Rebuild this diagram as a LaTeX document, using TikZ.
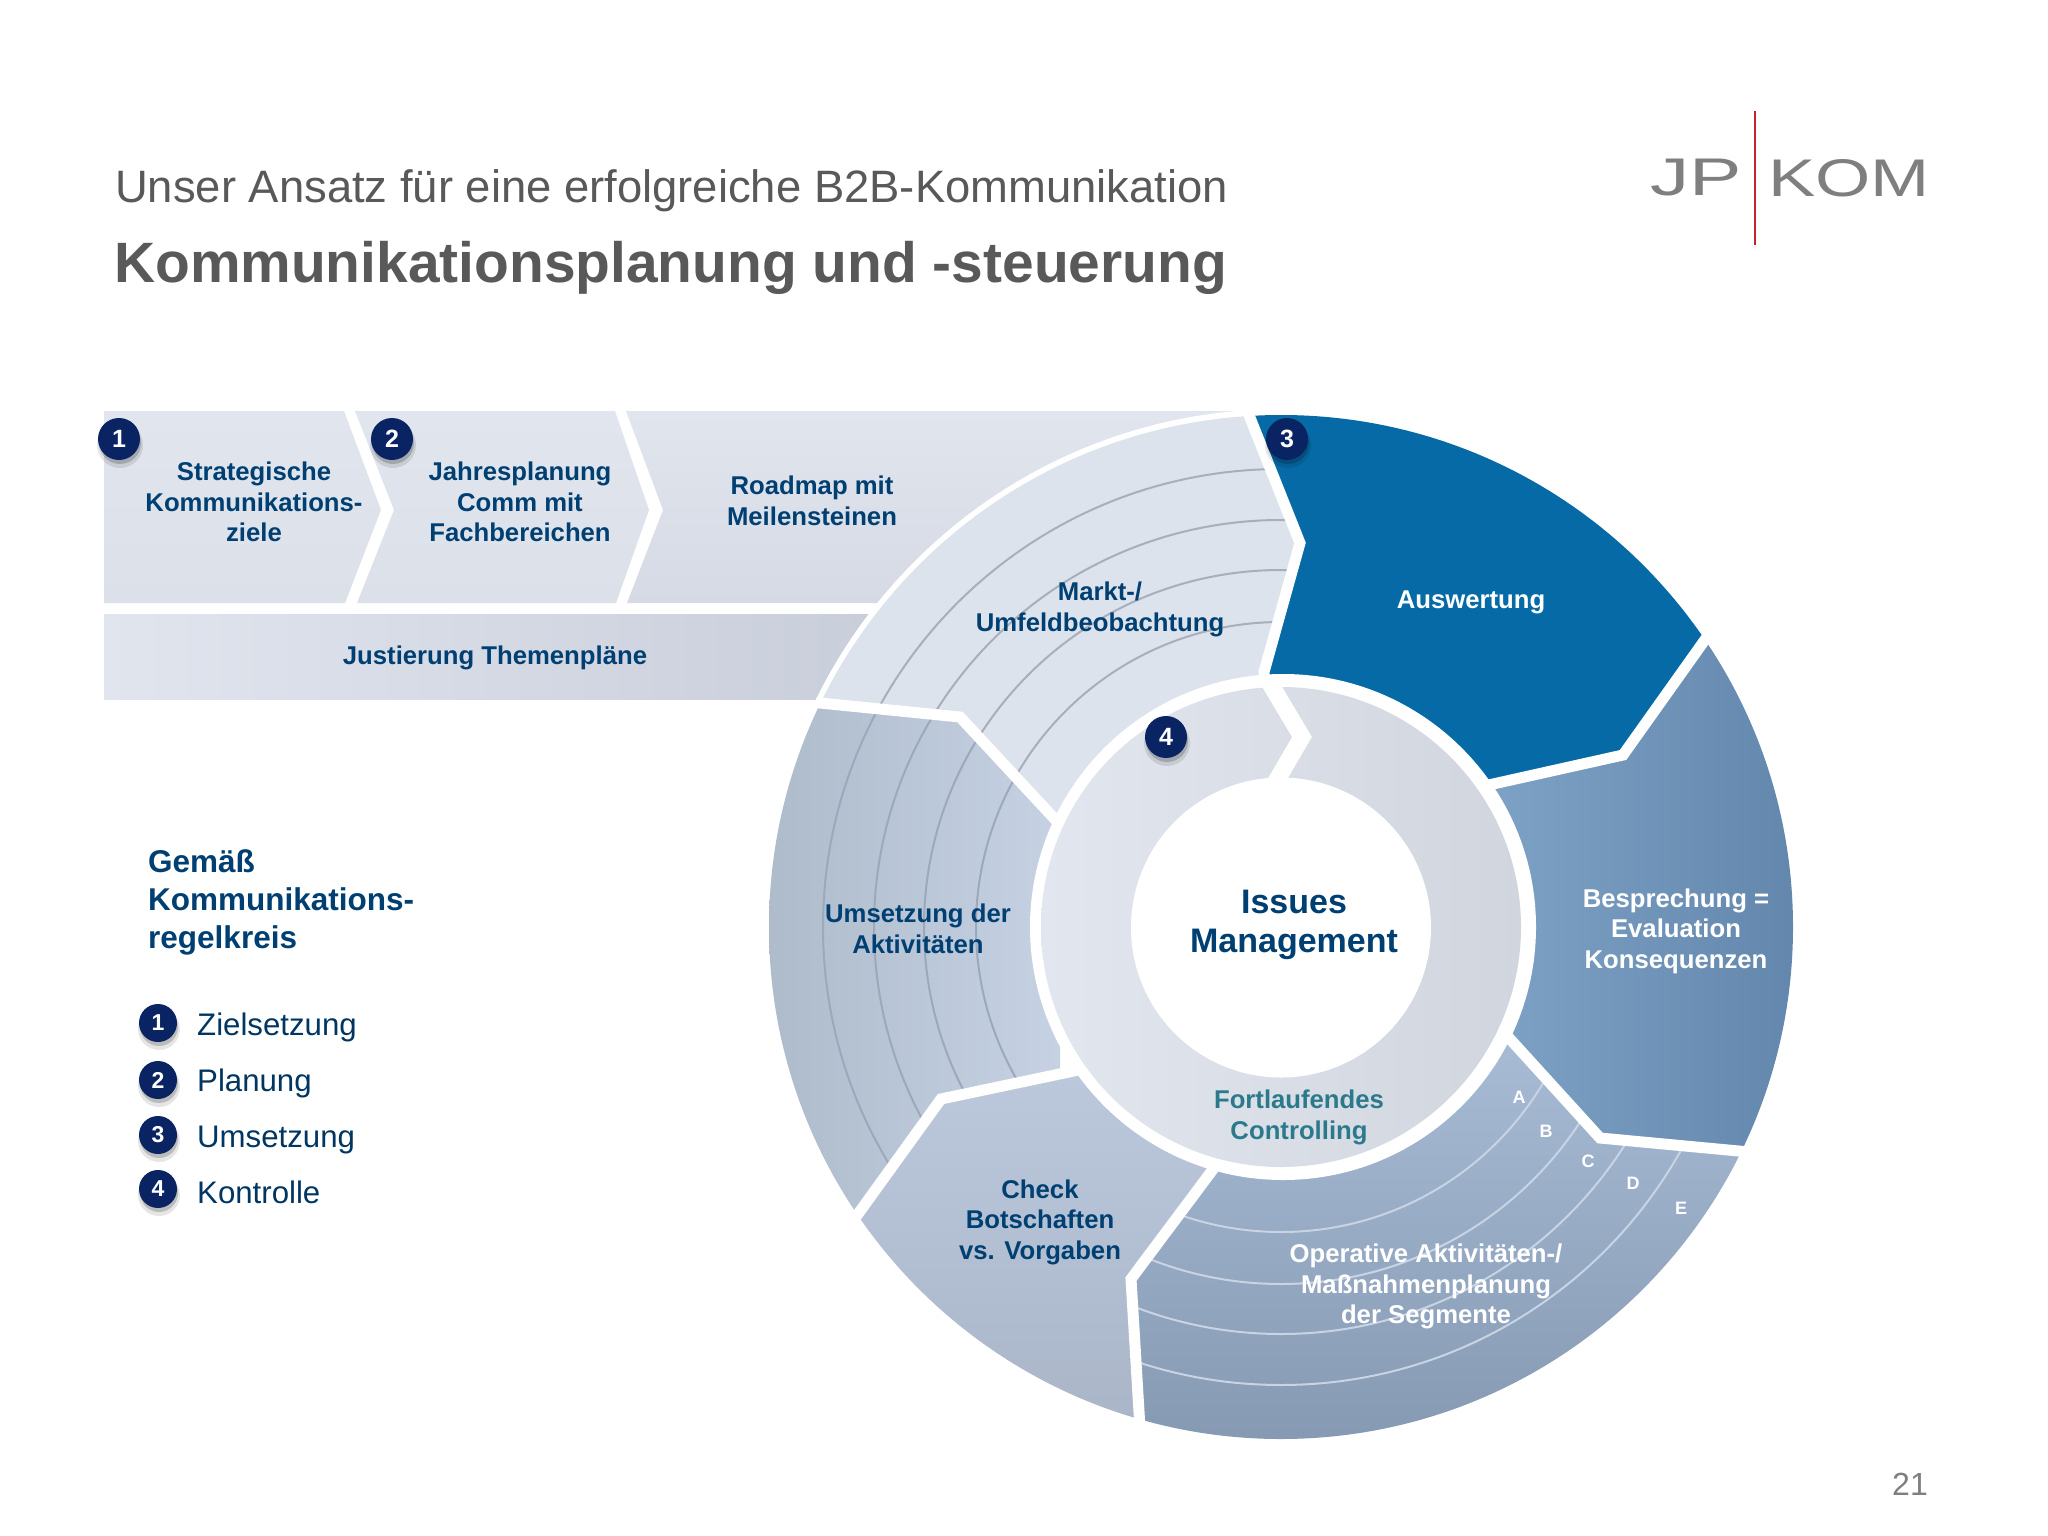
\documentclass[tikz,border=0pt]{standalone}
\usepackage{fontspec}
\setmainfont{Liberation Sans}
\usetikzlibrary{calc}
\definecolor{navy}{HTML}{003F72}
\definecolor{badge}{HTML}{0A2463}
\definecolor{titlegray}{HTML}{595959}
\definecolor{logogray}{HTML}{7F7F7F}
\definecolor{bandtop}{HTML}{E0E5EE}
\definecolor{bandlow}{HTML}{DBE0E9}
\definecolor{bandlowb}{HTML}{D5DAE4}
\definecolor{bandright}{HTML}{C8CDDA}
\definecolor{marktfill}{HTML}{DDE3EC}
\definecolor{auswfill}{HTML}{066AA6}
\definecolor{bestop}{HTML}{7FA3C7}
\definecolor{besmid}{HTML}{779BBF}
\definecolor{beslow}{HTML}{6387AC}
\definecolor{optop}{HTML}{A8BCD6}
\definecolor{oplow}{HTML}{8699B3}
\definecolor{chtop}{HTML}{BCC9DC}
\definecolor{chlow}{HTML}{A9B4C7}
\definecolor{umleft}{HTML}{AEBBCB}
\definecolor{umright}{HTML}{C6D2E3}
\definecolor{ringtop}{HTML}{E2E6EE}
\definecolor{ringlow}{HTML}{D1D5DE}
\definecolor{tealtxt}{HTML}{2B7A8C}
\definecolor{logored}{HTML}{C8202F}
\definecolor{ringgray}{HTML}{A6AFBC}
\definecolor{ringblue}{HTML}{9AA9BC}
\definecolor{ringlight}{HTML}{C8D3E3}
\tikzset{
  lbl/.style={align=center,inner sep=0pt,text=navy,font=\fontsize{25.7}{30.6}\selectfont\bfseries},
  whitelbl/.style={lbl,text=white},
  letterlbl/.style={inner sep=0pt,text=white,font=\fontsize{18}{20}\selectfont\bfseries},
  legendlbl/.style={anchor=west,inner sep=0pt,text height=24pt,text depth=7pt,text=navy!85!black,font=\fontsize{31.2}{36}\selectfont},
  titlelbl/.style={anchor=west,inner sep=0pt,text=titlegray},
  bdg/.style={circle,draw=none,fill=badge,text=white,inner sep=0pt,minimum size=42pt,font=\fontsize{25}{28}\selectfont\bfseries},
  bdgs/.style={bdg,minimum size=38pt,font=\fontsize{23}{26}\selectfont\bfseries},
  spoke/.style={draw=white,line width=11pt,line join=miter,miter limit=10},
  ringline/.style={draw=#1,line width=2pt,fill=none},
}
\newcommand{\ringsin}[1]{%
  \foreach \rr in {305,357,407,458}{\draw[ringline=#1] (cen) circle[radius=\rr];}}
\newcommand{\bshadow}[2]{%
  \fill[black,opacity=.10] ($(#1)+(1,6)$) circle[radius=#2+2];
  \fill[black,opacity=.18] ($(#1)+(1,4)$) circle[radius=#2];}
\begin{document}
\begin{tikzpicture}[x=1pt,y=-1pt]
\useasboundingbox (0,0) rectangle (2048,1536);
\fill[white] (0,0) rectangle (2048,1536);
% key points
\coordinate (cen) at (1281,927);
\coordinate (a0) at (1241,395); \coordinate (a1) at (1300,543); \coordinate (a2) at (1264,672);
\coordinate (b0) at (1719,620); \coordinate (b1) at (1623,755); \coordinate (b2) at (1493,784); \coordinate (b3) at (1400,805);
\coordinate (c0) at (1760,1153); \coordinate (c1) at (1600,1138); \coordinate (c2) at (1510,1039); \coordinate (c3) at (1420,940);
\coordinate (d0) at (1141,1445); \coordinate (d1) at (1131,1279); \coordinate (d2) at (1211,1172); \coordinate (d3) at (1280,1080);
\coordinate (e0) at (845,1232); \coordinate (e1) at (941,1099); \coordinate (e2) at (1069,1072); \coordinate (e3) at (1200,1044);
\coordinate (f0) at (800,701); \coordinate (f1) at (960,717); \coordinate (f2) at (1051,815); \coordinate (f3) at (1170,943);
% chevrons
\shade[top color=bandtop,bottom color=bandlow] (104,411) -- (344,411) -- (381,510) -- (345,603) -- (104,603) -- cycle;
\shade[top color=bandtop,bottom color=bandlow] (355,411) -- (615,411) -- (649,510) -- (616,603) -- (357,603) -- (394,510) -- cycle;
\shade[top color=bandtop,bottom color=bandlowb] (626,411) -- (1250,411) -- (1250,603) -- (627,603) -- (663,510) -- cycle;
\shade[left color=bandtop,right color=bandright] (104,614) rectangle (900,699);
% disc base
\fill[white] (1282,928) circle[radius=519];
\begin{scope}
\clip (cen) circle[radius=512];
% Markt
\begin{scope}
\clip (a0) -- (a1) -- (a2) -- (cen) -- (f2) -- (f1) -- (f0) -- (700,500) -- (900,300) -- cycle;
\fill[marktfill] (760,400) rectangle (1320,860);
\ringsin{ringgray}
\end{scope}
% Auswertung
\begin{scope}
\clip (a0) -- (a1) -- (a2) -- (cen) -- (b2) -- (b1) -- (b0) -- (1800,400) -- cycle;
\fill[auswfill] (1230,400) rectangle (1740,800);
\end{scope}
% Besprechung
\begin{scope}
\clip (b0) -- (b1) -- (b2) -- (cen) -- (c2) -- (c1) -- (c0) -- (1900,1100) -- (1900,600) -- cycle;
\shade[left color=bestop,middle color=besmid,right color=beslow] (1480,620) rectangle (1800,1160);
\end{scope}
% Operative
\begin{scope}
\clip (c0) -- (c1) -- (c2) -- (cen) -- (d2) -- (d1) -- (d0) -- (1300,1500) -- (1700,1400) -- cycle;
\shade[top color=optop,bottom color=oplow] (1120,1030) rectangle (1760,1445);
\ringsin{ringlight}
\end{scope}
% Check
\begin{scope}
\clip (d0) -- (d1) -- (d2) -- (cen) -- (e2) -- (e1) -- (e0) -- (900,1450) -- cycle;
\shade[top color=chtop,bottom color=chlow] (840,1060) rectangle (1220,1440);
\end{scope}
% Umsetzung
\begin{scope}
\clip (e0) -- (e1) -- (e2) -- (cen) -- (f2) -- (f1) -- (f0) -- (700,700) -- (700,1200) -- cycle;
\shade[left color=umleft,right color=umright] (765,700) rectangle (1060,1220);
\ringsin{ringblue}
\end{scope}
\end{scope}
% white gaps between the segments
\begin{scope}
\clip (1282,928) circle[radius=519];
\path[spoke] (a0) -- (a1) -- (a2) -- (cen);
\path[spoke] (b0) -- (b1) -- (b2) -- (b3);
\path[spoke] (c0) -- (c1) -- (c2) -- (c3);
\path[spoke] (d0) -- (d1) -- (d2) -- (d3);
\path[spoke] (e0) -- (e1) -- (e2) -- (e3);
\path[spoke] (f0) -- (f1) -- (f2) -- (f3);
\end{scope}
% centre rings
\fill[white] (1283,927) circle[radius=253];
\shade[left color=ringtop,right color=ringlow] (1281,927) circle[radius=240];
\coordinate (g0) at (1268,680); \coordinate (g1) at (1302,737); \coordinate (g2) at (1274,785);
\path[spoke,line width=17pt] (g0) -- (g1) -- (g2);
\fill[white] (1281,927.5) circle[radius=150];
% texts
\node[titlelbl,font=\fontsize{45.4}{50}\selectfont] (t1) at (115,191) {Unser Ansatz für eine erfolgreiche B2B-Kommunikation};
\node[titlelbl,font=\fontsize{56.9}{62}\selectfont\bfseries] (t2) at (114,268) {Kommunikationsplanung und -steuerung};
\node[lbl] (n1) at (254,502) {Strategische\\Kommunikations-\\ziele};
\node[lbl] (n2) at (520,502) {Jahresplanung\\Comm mit\\Fachbereichen};
\node[lbl] (n3) at (812,501) {Roadmap mit\\Meilensteinen};
\node[lbl] (n4) at (495,658) {Justierung Themenpläne};
\node[lbl] (n5) at (1100,609.5) {Markt-/\\Umfeldbeobachtung};
\node[whitelbl] (n6) at (1471,602) {Auswertung};
\node[whitelbl] (n7) at (1676,931) {Besprechung =\\Evaluation\\Konsequenzen};
\node[lbl,font=\fontsize{34}{39}\selectfont\bfseries] (n8) at (1294,925) {Issues\\Management};
\node[lbl] (n9) at (918,929) {Umsetzung der\\Aktivitäten};
\node[lbl,text=tealtxt] (n10) at (1299,1117.5) {Fortlaufendes\\Controlling};
\node[lbl] (n11) at (1040,1222) {Check\\Botschaften\\vs. Vorgaben};
\node[whitelbl] (n12) at (1426,1286.5) {Operative Aktivitäten-/\\Maßnahmenplanung\\der Segmente};
\node[letterlbl] (la) at (1519,1097) {A};
\node[letterlbl] (lb) at (1546,1131) {B};
\node[letterlbl] (lc) at (1588,1161) {C};
\node[letterlbl] (ld) at (1633,1183) {D};
\node[letterlbl] (le) at (1681,1208) {E};
\node[lbl,anchor=west,align=left,font=\fontsize{31.5}{38}\selectfont\bfseries] (n13) at (148,902.5) {Gemäß\\Kommunikations-\\regelkreis};
\node[legendlbl] (l1) at (197,1026.5) {Zielsetzung};
\node[legendlbl] (l2) at (197,1082.5) {Planung};
\node[legendlbl] (l3) at (197,1138.5) {Umsetzung};
\node[legendlbl] (l4) at (197,1194.5) {Kontrolle};
\node[inner sep=0pt,anchor=east,text=logogray,font=\fontsize{32}{36}\selectfont] (pg) at (1928,1484) {21};
% badges
\coordinate (p1) at (119,439); \coordinate (p2) at (392,439); \coordinate (p3) at (1287,439); \coordinate (p4) at (1166,737);
\coordinate (q1) at (158,1023); \coordinate (q2) at (158,1080); \coordinate (q3) at (158,1135); \coordinate (q4) at (158,1189);
\bshadow{p1}{21}\bshadow{p2}{21}\bshadow{p3}{21}\bshadow{p4}{21}
\bshadow{q1}{19}\bshadow{q2}{19}\bshadow{q3}{19}\bshadow{q4}{19}
\node[bdg] (b1n) at (p1) {1};
\node[bdg] (b2n) at (p2) {2};
\node[bdg] (b3n) at (p3) {3};
\node[bdg] (b4n) at (p4) {4};
\node[bdgs] (c1n) at (q1) {1};
\node[bdgs] (c2n) at (q2) {2};
\node[bdgs] (c3n) at (q3) {3};
\node[bdgs] (c4n) at (q4) {4};
% logo
\draw[logored,line width=2.6pt] (1755,111) -- (1755,245);
\node[inner sep=0pt,text=logogray,font=\fontsize{53}{56}\selectfont] (jp) at (1696,178) {\scalebox{1.48}[1]{JP}};
\node[inner sep=0pt,text=logogray,font=\fontsize{53}{56}\selectfont] (kom) at (1849,178) {\scalebox{1.34}[1]{KOM}};
\end{tikzpicture}
\end{document}
